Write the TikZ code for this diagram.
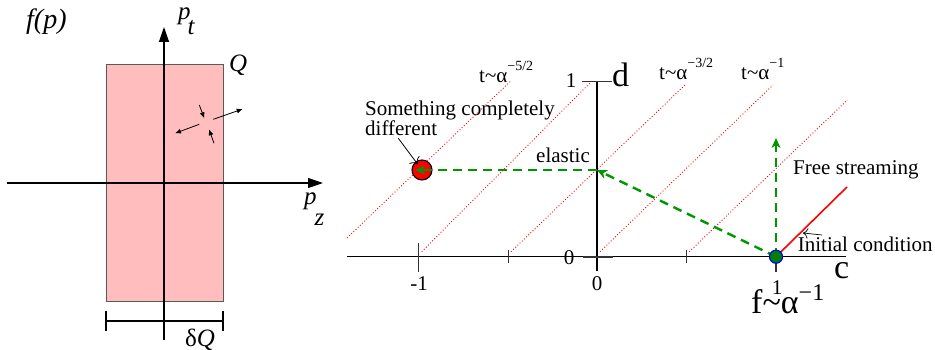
\documentclass[tikz,border=0pt]{standalone}
\usepackage{fontspec}
\setmainfont{Liberation Serif}
\usetikzlibrary{arrows.meta}
\definecolor{boxpink}{RGB}{255,189,189}
\definecolor{flowgreen}{RGB}{0,150,0}
\definecolor{dotgreen}{RGB}{0,128,0}
\begin{document}
\begin{tikzpicture}[
  x=1pt,y=-1pt,
  axis/.style={draw=black,line width=1.3pt},
  axtick/.style={draw=black!80,line width=1.2pt},
  slope/.style={draw=red,line width=0.9pt,dash pattern=on 0.9pt off 2.1pt},
  flow/.style={draw=flowgreen,line width=2.4pt,dash pattern=on 9pt off 6pt,
    -{Stealth[length=10pt,width=9pt,inset=3pt]}},
  kick/.style={draw=black,line width=0.8pt,-{Latex[length=6pt,width=5pt]}},
  lbl/.style={font=\fontsize{21}{17}\selectfont,inner sep=0pt},
  bigl/.style={font=\fontsize{34}{34}\selectfont,inner sep=0pt},
  sym/.style={font=\fontsize{25}{25}\selectfont\itshape,inner sep=0pt}]
  \useasboundingbox (0,0) rectangle (935,350);

  % phase space box
  \draw[draw=black!65,fill=boxpink,line width=1pt] (106,65) rectangle (223,301);
  \draw[axis,-{Triangle[length=15pt,width=10pt]}] (7,183) -- (323,183);
  \draw[axis,-{Triangle[length=15pt,width=10pt]}] (164,340) -- (164,27);
  \node[sym,font=\fontsize{28}{28}\selectfont\itshape,anchor=base west] (fp) at (26,29) {f(p)};
  \node[sym,anchor=base west] (pt) at (178,19.5) {p\kern-3pt\raisebox{-15.5pt}{t}};
  \node[sym,anchor=base west] (pz) at (304,204.5) {p\kern-2pt\raisebox{-21pt}{z}};
  \node[sym,anchor=base west] (q) at (229,72) {Q};
  \draw[line width=1.2pt] (106,311) -- (106,331);
  \draw[line width=1.2pt] (223,311) -- (223,331);
  \draw[line width=1.2pt] (106,321) -- (223,321);
  \node[sym,anchor=base west] (dq) at (185,346) {\upshape δ\itshape Q};
  \draw[kick] (199.3,105) -- (204.3,118.3);
  \draw[kick] (213.3,119.3) -- (242.7,109);
  \draw[kick] (199.3,124.3) -- (175,133.3);
  \draw[kick] (214,143.3) -- (209,129.3);

  % c-d plane
  \foreach \xa/\ya/\xb/\yb in {347/238/510/81.7, 421.7/251.7/590/83,
    511/251.7/685/85, 600/251.7/773/85, 689.3/251.7/847.3/100}
    \draw[slope] (\xa,\ya) -- (\xb,\yb);
  \draw[axis] (347,256.7) -- (846,256.7);
  \draw[axis] (597,81.7) -- (597,271);
  \draw[axtick] (582,81.7) -- (612,81.7);
  \draw[axtick,line width=1.6pt] (583,256.7) -- (613,256.7);
  \foreach \x/\ya/\yb in {418.3/243/272, 508.3/250/263, 686.7/250/263, 776/256/272}
    \draw[axtick] (\x,\ya) -- (\x,\yb);

  \node[lbl] (cm1) at (419,284) {-1};
  \node[lbl] (c0) at (597,284) {0};
  \node[lbl] (c1) at (777,288) {1};
  \node[lbl] (d0) at (569,257.5) {0};
  \node[lbl] (d1) at (571,81) {1};
  \node[bigl,anchor=base west] (dlab) at (612,87) {d};
  \node[bigl,anchor=base west] (clab) at (834,278) {c};
  \node[bigl,anchor=base west] (fa) at (751,313)
    {f\textasciitilde α\raisebox{13pt}{\fontsize{24}{24}\selectfont −1}};

  \node[lbl,anchor=base west] (t52) at (479,83)
    {t\textasciitilde α\raisebox{12pt}{\fontsize{14}{14}\selectfont −5/2}};
  \node[lbl,anchor=base west] (t32) at (659,80)
    {t\textasciitilde α\raisebox{12pt}{\fontsize{14}{14}\selectfont −3/2}};
  \node[lbl,anchor=base west] (t1) at (741,80)
    {t\textasciitilde α\raisebox{12pt}{\fontsize{14}{14}\selectfont −1}};

  % paths from the initial condition
  \coordinate (ic) at (776,256.7);
  \coordinate (el) at (597,170);
  \coordinate (up) at (776,138);
  \draw[red,line width=1.6pt] (ic) -- (847,187);
  \node[circle,draw=black,fill=red,line width=1.1pt,minimum size=20pt,inner sep=0pt]
    (diff) at (422,170) {};
  \coordinate (hit) at ([xshift=-7pt]diff.center);
  \draw[flow] (ic) -- (el);
  \draw[flow] (el) -- (hit);
  \draw[flow] (ic) -- (up);
  \node[circle,draw=blue,fill=dotgreen,line width=1.2pt,minimum size=13pt,inner sep=0pt]
    (start) at (ic) {};

  \node[lbl,anchor=base] (elab) at (563,163) {elastic};
  \node[lbl,anchor=base west] (fslab) at (793,175) {Free streaming};
  \node[lbl,anchor=base west] (iclab) at (797.7,251.7) {Initial condition};
  \coordinate (ictail) at (822,235);
  \draw[line width=0.7pt,-{To[length=5pt]}] (ictail) -- (803,233);
  \node[lbl,anchor=north west,align=left] (sdlab) at (365,100.5)
    {Something completely\\different};
  \coordinate (sdtail) at (398.3,138.3);
  \draw[line width=0.8pt,-{To[length=6pt]},shorten >=7pt] (sdtail) -- (diff.center);
\end{tikzpicture}
\end{document}
